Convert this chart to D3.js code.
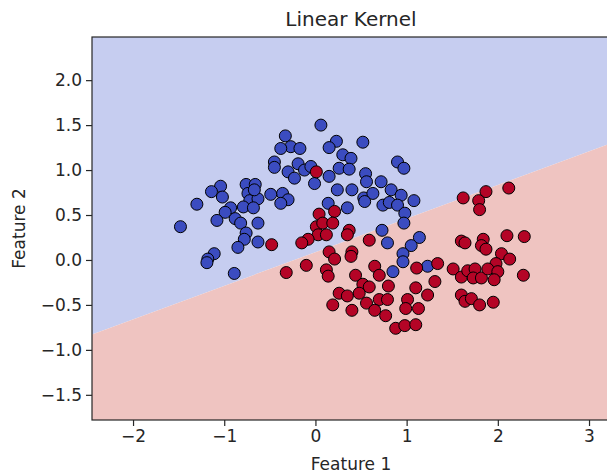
<!DOCTYPE html>
<html>
<head>
<meta charset="utf-8">
<script src="https://cdn.jsdelivr.net/npm/d3@7"></script>
<style>
  html, body { margin: 0; padding: 0; background: #ffffff; overflow: hidden; }
  svg { display: block; }
  text { font-family: "DejaVu Sans", sans-serif; fill: #262626; }
</style>
</head>
<body>
<svg id="chart" width="607" height="474"></svg>
<script>
// ---- data ----
const titleText = "Linear Kernel";
const xLabel = "Feature 1";
const yLabel = "Feature 2";
const xDomain = [-2.45, 3.23];
const yDomain = [-1.78, 2.48];
const xTicks = [-2, -1, 0, 1, 2, 3];
const yTicks = [-1.5, -1.0, -0.5, 0.0, 0.5, 1.0, 1.5, 2.0];
// decision boundary end points (x, y)
const boundaryX = [-2.45, 3.23];
const boundaryY = [-0.83, 1.294];

// class 0 (blue) points
const class0X = [0.06,-0.33,-0.27,-0.17,-0.38,0.23,0.15,0.52,0.30,0.39,-0.19,-0.45,-0.45,-0.30,-0.23,-0.12,-0.05,-0.01,0.15,0.26,0.37,0.55,0.56,0.72,0.90,0.97,0.24,0.40,0.53,0.63,0.83,0.94,0.74,0.81,0.90,-0.36,-0.30,0.14,0.35,0.54,0.98,0.97,1.08,1.14,1.05,0.96,0.96,0.73,0.79,0.85,1.23,-0.76,-0.66,-1.04,-1.14,-1.02,-0.74,-0.72,-0.63,-0.49,-0.38,-1.30,-0.93,-0.79,-0.68,-0.99,-0.67,-1.08,-0.88,-0.82,-0.63,-1.48,-0.76,-0.78,-0.63,-0.85,-1.11,-1.18,-1.19,-0.89];
const class0Y = [1.50,1.38,1.26,1.24,1.24,1.32,1.25,1.31,1.17,1.13,1.07,1.09,1.03,0.98,0.91,1.00,1.04,0.85,0.93,1.02,1.01,0.96,0.87,0.87,1.09,1.02,0.78,0.78,0.69,0.74,0.78,0.72,0.61,0.64,0.61,0.74,0.67,0.63,0.58,0.65,0.52,0.41,0.66,0.25,0.16,0.07,-0.02,0.33,0.19,-0.13,-0.07,0.84,0.84,0.82,0.76,0.70,0.74,0.66,0.68,0.73,0.63,0.62,0.58,0.59,0.58,0.53,0.78,0.44,0.46,0.41,0.41,0.37,0.30,0.23,0.20,0.14,0.07,0.01,-0.03,-0.15];

// class 1 (red) points
const class1X = [0.01,0.04,0.21,0.01,0.08,0.19,0.03,0.12,-0.08,-0.15,0.37,0.35,0.59,0.15,0.21,0.40,0.39,-0.10,-0.32,0.12,0.14,0.44,0.65,0.70,0.52,0.59,0.80,0.48,0.26,0.35,0.19,0.40,0.56,0.70,0.79,0.65,1.01,0.99,0.77,0.88,0.98,1.10,-0.48,1.62,1.87,1.79,1.80,2.12,1.60,1.64,1.84,1.82,1.87,2.10,2.29,2.04,2.13,1.98,1.34,1.11,1.51,1.60,1.67,1.75,1.73,1.82,1.89,2.00,1.96,2.28,1.31,1.10,1.23,1.13,1.60,1.64,1.71,1.80,1.95];
const class1Y = [0.98,0.51,0.54,0.37,0.41,0.41,0.28,0.28,0.23,0.19,0.33,0.28,0.22,0.09,0.01,0.09,0.04,-0.06,-0.14,-0.11,-0.18,-0.17,-0.07,-0.17,-0.27,-0.30,-0.29,-0.37,-0.37,-0.40,-0.50,-0.56,-0.48,-0.44,-0.44,-0.56,-0.44,-0.54,-0.62,-0.76,-0.73,-0.72,0.17,0.69,0.76,0.66,0.56,0.80,0.21,0.19,0.23,0.16,0.12,0.27,0.26,0.07,0.01,-0.04,-0.04,-0.09,-0.10,-0.19,-0.12,-0.10,-0.20,-0.20,-0.10,-0.13,-0.22,-0.17,-0.24,-0.31,-0.39,-0.54,-0.39,-0.46,-0.43,-0.50,-0.47];

// ---- layout ----
const plot = { left: 92, right: 610, top: 37, bottom: 420 };
const colors = {
  region0: "#c6cdf0",
  region1: "#efc4c1",
  point0: "#3b4cc0",
  point1: "#b40426"
};

const svg = d3.select("#chart");
const x = d3.scaleLinear().domain(xDomain).range([plot.left, plot.right]);
const y = d3.scaleLinear().domain(yDomain).range([plot.bottom, plot.top]);

svg.append("defs").append("clipPath").attr("id", "clip")
  .append("rect")
  .attr("x", plot.left).attr("y", plot.top)
  .attr("width", plot.right - plot.left).attr("height", plot.bottom - plot.top);

const g = svg.append("g").attr("clip-path", "url(#clip)");

// decision regions
const line = d3.line().x(d => x(d[0])).y(d => y(d[1]));
const upper = [
  [xDomain[0], yDomain[1]], [xDomain[1], yDomain[1]],
  [boundaryX[1], boundaryY[1]], [boundaryX[0], boundaryY[0]]
];
const lower = [
  [boundaryX[0], boundaryY[0]], [boundaryX[1], boundaryY[1]],
  [xDomain[1], yDomain[0]], [xDomain[0], yDomain[0]]
];
g.append("path").attr("d", line(upper) + "Z").attr("fill", colors.region0);
g.append("path").attr("d", line(lower) + "Z").attr("fill", colors.region1);

// points
const pts = [];
class0X.forEach((v, i) => pts.push({ x: v, y: class0Y[i], c: 0 }));
class1X.forEach((v, i) => pts.push({ x: v, y: class1Y[i], c: 1 }));
g.selectAll("circle.pt").data(pts).join("circle")
  .attr("class", "pt")
  .attr("cx", d => x(d.x)).attr("cy", d => y(d.y))
  .attr("r", 6)
  .attr("fill", d => d.c === 0 ? colors.point0 : colors.point1)
  .attr("stroke", "#000").attr("stroke-width", 1);

// frame
svg.append("rect")
  .attr("x", plot.left).attr("y", plot.top)
  .attr("width", plot.right - plot.left).attr("height", plot.bottom - plot.top)
  .attr("fill", "none").attr("stroke", "#262626").attr("stroke-width", 1.2);

// axes
const fmtX = d => d3.format("d")(d).replace("-", "\u2212");
const fmtY = d => d3.format(".1f")(d).replace("-", "\u2212");
const xAxis = svg.append("g").attr("transform", `translate(0,${plot.bottom})`)
  .call(d3.axisBottom(x).tickValues(xTicks).tickFormat(fmtX).tickSize(6).tickPadding(4));
const yAxis = svg.append("g").attr("transform", `translate(${plot.left},0)`)
  .call(d3.axisLeft(y).tickValues(yTicks).tickFormat(fmtY).tickSize(6).tickPadding(4));
[xAxis, yAxis].forEach(a => {
  a.select(".domain").remove();
  a.selectAll(".tick line").attr("stroke", "#262626").attr("stroke-width", 1.2);
  a.selectAll(".tick text").style("font-size", "17px").attr("fill", "#262626");
});

// labels
svg.append("text").attr("x", (plot.left + plot.right) / 2).attr("y", 26)
  .attr("text-anchor", "middle").style("font-size", "20px").text(titleText);
svg.append("text").attr("x", (plot.left + plot.right) / 2).attr("y", 470)
  .attr("text-anchor", "middle").style("font-size", "17px").text(xLabel);
svg.append("text").attr("transform", `translate(25,${(plot.top + plot.bottom) / 2}) rotate(-90)`)
  .attr("text-anchor", "middle").style("font-size", "17px").text(yLabel);
</script>
</body>
</html>
